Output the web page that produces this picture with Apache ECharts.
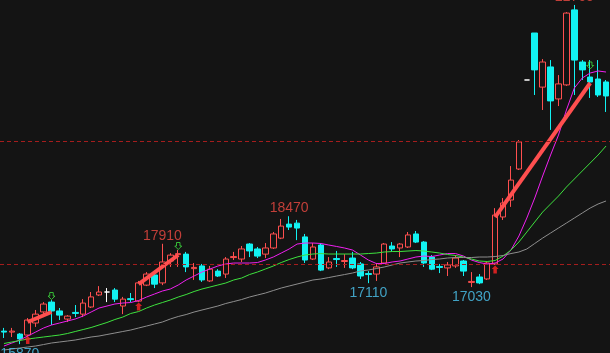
<!DOCTYPE html>
<html>
<head>
<meta charset="utf-8">
<script src="https://cdn.jsdelivr.net/npm/echarts@6/dist/echarts.min.js"></script>
<style>
  html, body { margin: 0; padding: 0; background: #141414; }
  #kline { width: 610px; height: 353px; }
</style>
</head>
<body>
<div id="kline"></div>
<script>
// daily bars (open / close / low / high)
const opens = [16135, 16115, 16075, 16055, 16300, 16525, 16725, 16545, 16380, 16515,
  16480, 16625, 16870, 16930, 16970, 16645, 16795, 16745, 17070, 17275,
  17115, 17560, 17690, 17700, 17405, 17460, 17155, 17355, 17295, 17630,
  17600, 17905, 17805, 17700, 17825, 18025, 18310, 18330, 18050, 17600,
  17885, 17420, 17610, 17550, 17620, 17500, 17305, 17295, 17520, 17865,
  17825, 17845, 18110, 17945, 17640, 17450, 17420, 17460, 17560, 17125,
  17235, 17195, 17500, 18455, 18800, 19430, 21240, 22195, 21095, 21505,
  20855, 21140, 22665, 21605, 21300, 21260, 21200];
const closes = [16115, 16135, 15975, 16360, 16480, 16685, 16545, 16460, 16440, 16495,
  16705, 16830, 16930, 16930, 16785, 16785, 16775, 17115, 17295, 17090,
  17540, 17680, 17710, 17440, 17430, 17175, 17395, 17255, 17600, 17650,
  17805, 17765, 17660, 17825, 18110, 18270, 18250, 18230, 17580, 17845,
  17375, 17540, 17590, 17570, 17420, 17255, 17285, 17440, 17905, 17805,
  17905, 18090, 17945, 17520, 17395, 17430, 17480, 17620, 17355, 17145,
  17115, 17520, 18495, 18740, 19205, 19980, 21240, 21445, 21605, 20815,
  21160, 22600, 21645, 21445, 21200, 20935, 20915];
const lows = [15995, 16015, 15870, 16015, 16220, 16420, 16260, 16360, 16320, 16420,
  16420, 16605, 16850, 16725, 16725, 16480, 16725, 16725, 17050, 17010,
  17070, 17440, 17440, 17335, 17175, 17135, 17135, 17235, 17215, 17580,
  17540, 17640, 17620, 17620, 17805, 18005, 18190, 17985, 17520, 17580,
  17355, 17395, 17440, 17420, 17395, 17195, 17110, 17155, 17500, 17745,
  17640, 17825, 17925, 17440, 17375, 17315, 17255, 17420, 17255, 17030,
  17090, 17175, 17480, 18395, 18660, 19410, 21240, 20935, 20630, 20225,
  20710, 21120, 20935, 21240, 20875, 20895, 20590];
const highs = [16200, 16200, 16095, 16400, 16565, 16725, 16765, 16605, 16460, 16665,
  16785, 16930, 17050, 17010, 17010, 16830, 16910, 17155, 17335, 17295,
  17910, 17720, 17785, 17745, 17520, 17500, 17460, 17395, 17640, 17745,
  17865, 17925, 17845, 17925, 18150, 18415, 18470, 18395, 18110, 17925,
  17925, 17640, 17765, 17700, 17745, 17540, 17355, 17520, 17925, 17945,
  17925, 18150, 18170, 17965, 17680, 17500, 17540, 17680, 17580, 17335,
  17295, 17540, 18635, 18840, 19490, 20020, 21240, 22195, 21665, 21645,
  21340, 22620, 22765, 21645, 21645, 21645, 21240];

// moving average lines (values read at each bar)
const maMagenta = [15832, 15893, 15954, 16035, 16116, 16198, 16259, 16299, 16340, 16381,
  16442, 16523, 16604, 16645, 16686, 16706, 16716, 16757, 16828, 16889,
  16950, 16991, 17072, 17174, 17255, 17336, 17397, 17458, 17499, 17519,
  17519, 17519, 17529, 17580, 17641, 17722, 17804, 17905, 17926, 17926,
  17916, 17885, 17855, 17824, 17783, 17682, 17580, 17509, 17509, 17540,
  17560, 17601, 17641, 17661, 17651, 17682, 17712, 17712, 17661, 17580,
  17529, 17499, 17519, 17601, 17783, 18068, 18434, 18841, 19288, 19715,
  20121, 20630, 21077, 21280, 21382, 21423, 21402];
const maGreen = [15883, 15913, 15944, 15974, 15995, 16015, 16035, 16055, 16086, 16127,
  16167, 16208, 16259, 16310, 16371, 16421, 16493, 16533, 16604, 16665,
  16716, 16767, 16828, 16879, 16940, 16991, 17031, 17072, 17113, 17174,
  17214, 17285, 17336, 17397, 17458, 17529, 17590, 17641, 17682, 17702,
  17712, 17702, 17702, 17702, 17702, 17702, 17712, 17722, 17743, 17753,
  17753, 17763, 17773, 17763, 17743, 17722, 17692, 17672, 17641, 17601,
  17560, 17550, 17570, 17661, 17783, 17946, 18149, 18353, 18556, 18719,
  18881, 19064, 19227, 19390, 19552, 19715, 19898];
const maGray = [15751, 15771, 15791, 15812, 15832, 15862, 15893, 15913, 15933, 15954,
  15984, 16015, 16035, 16066, 16096, 16127, 16157, 16198, 16238, 16279,
  16320, 16381, 16432, 16472, 16523, 16564, 16604, 16645, 16696, 16736,
  16777, 16828, 16869, 16909, 16960, 17011, 17052, 17092, 17133, 17174,
  17194, 17224, 17255, 17285, 17316, 17357, 17377, 17407, 17438, 17479,
  17519, 17540, 17560, 17570, 17590, 17601, 17621, 17631, 17631, 17631,
  17641, 17641, 17651, 17672, 17712, 17743, 17804, 17916, 18027, 18129,
  18231, 18332, 18434, 18536, 18637, 18719, 18780];

// trend segments: [bar index, price] start -> end
const trendFrom = [[3, 16320], [17, 17092], [62, 18454]];
const trendTo = [[6, 16523], [22, 17682], [74, 21179]];

// buy (red up arrow) / sell (green down arrow) signals
const buyIdx = [3, 17, 62];
const buyVal = [15954, 16635, 17387];
const sellIdx = [6, 22, 74];
const sellVal = [16848, 17865, 21535];

// high / low annotations
const peakIdx = [2, 20, 36, 46, 59, 72];
const peakVal = [15870, 17910, 18470, 17110, 17030, 22765];
const peakType = ['low', 'high', 'high', 'low', 'low', 'high'];

// dashed reference levels
const refLevels = [20000, 17500];

const bg = '#141414';
const upColor = '#ff4f4f';
const downColor = '#12f2f2';
const labelFont = "'Liberation Sans', Arial, sans-serif";

const categories = opens.map((_, i) => String(i + 1));

const candleData = opens.map((o, i) => {
  const item = { value: [o, closes[i], lows[i], highs[i]] };
  // flat bars (open == close) are drawn white
  if (o === closes[i]) {
    item.itemStyle = { borderColor: '#ffffff', borderColor0: '#ffffff', borderColorDoji: '#ffffff' };
  }
  return item;
});

const maLine = (name, data, color) => ({
  name, type: 'line', data, symbol: 'none', smooth: false,
  lineStyle: { color, width: 1 }, z: 3, silent: true
});

const trendSeries = trendFrom.map((p, i) => ({
  type: 'line', data: [p, trendTo[i]], symbol: 'none',
  lineStyle: { color: upColor, width: 4 }, z: 4, silent: true
}));

const chart = echarts.init(document.getElementById('kline'));

const option = {
  backgroundColor: bg,
  animation: false,
  grid: { left: -3, top: 0, width: 616, height: 353 },
  xAxis: {
    type: 'category',
    data: categories,
    boundaryGap: true,
    show: false
  },
  yAxis: {
    type: 'value',
    min: 15690,
    max: 22866,
    show: false,
    splitLine: { show: false }
  },
  series: [
    {
      name: 'K',
      type: 'candlestick',
      data: candleData,
      barWidth: 6,
      itemStyle: {
        color: bg,
        color0: downColor,
        borderColor: upColor,
        borderColor0: downColor,
        borderColorDoji: '#ffffff',
        borderWidth: 1
      },
      markLine: {
        silent: true,
        symbol: ['none', 'none'],
        label: { show: false },
        lineStyle: { color: '#a51d1d', type: [4, 3], width: 1 },
        data: refLevels.map(v => ({ yAxis: v }))
      },
      z: 2
    },
    maLine('MA1', maMagenta, '#f020f0'),
    maLine('MA2', maGreen, '#3ee23e'),
    maLine('MA3', maGray, '#8e8e8e'),
    ...trendSeries,
    {
      type: 'scatter',
      data: buyIdx.map((x, i) => [x, buyVal[i]]),
      symbol: 'path://M4,0 L8,4 L6,4 L6,9 L2,9 L2,4 L0,4 Z',
      symbolSize: [7, 8],
      itemStyle: { color: '#ff2424' },
      z: 5, silent: true
    },
    {
      type: 'scatter',
      data: sellIdx.map((x, i) => [x, sellVal[i]]),
      symbol: 'path://M2,0 L6,0 L6,4 L8,4 L4,8 L0,4 L2,4 Z',
      symbolSize: [7, 7],
      itemStyle: { color: 'rgba(0,0,0,0)', borderColor: '#3ee23e', borderWidth: 1 },
      z: 5, silent: true
    },
    {
      type: 'scatter',
      data: peakIdx.map((x, i) => ({
        value: [x, peakVal[i]],
        label: {
          color: peakType[i] === 'high' ? '#ee4a42' : '#4cc6f0',
          offset: [0, peakType[i] === 'high' ? -8 : 10]
        }
      })),
      symbolSize: 1,
      itemStyle: { color: 'rgba(0,0,0,0)' },
      label: {
        show: true,
        position: 'inside',
        fontSize: 14,
        fontFamily: labelFont,
        formatter: p => p.value[1]
      },
      z: 6, silent: true
    }
  ]
};

chart.setOption(option);
</script>
</body>
</html>
